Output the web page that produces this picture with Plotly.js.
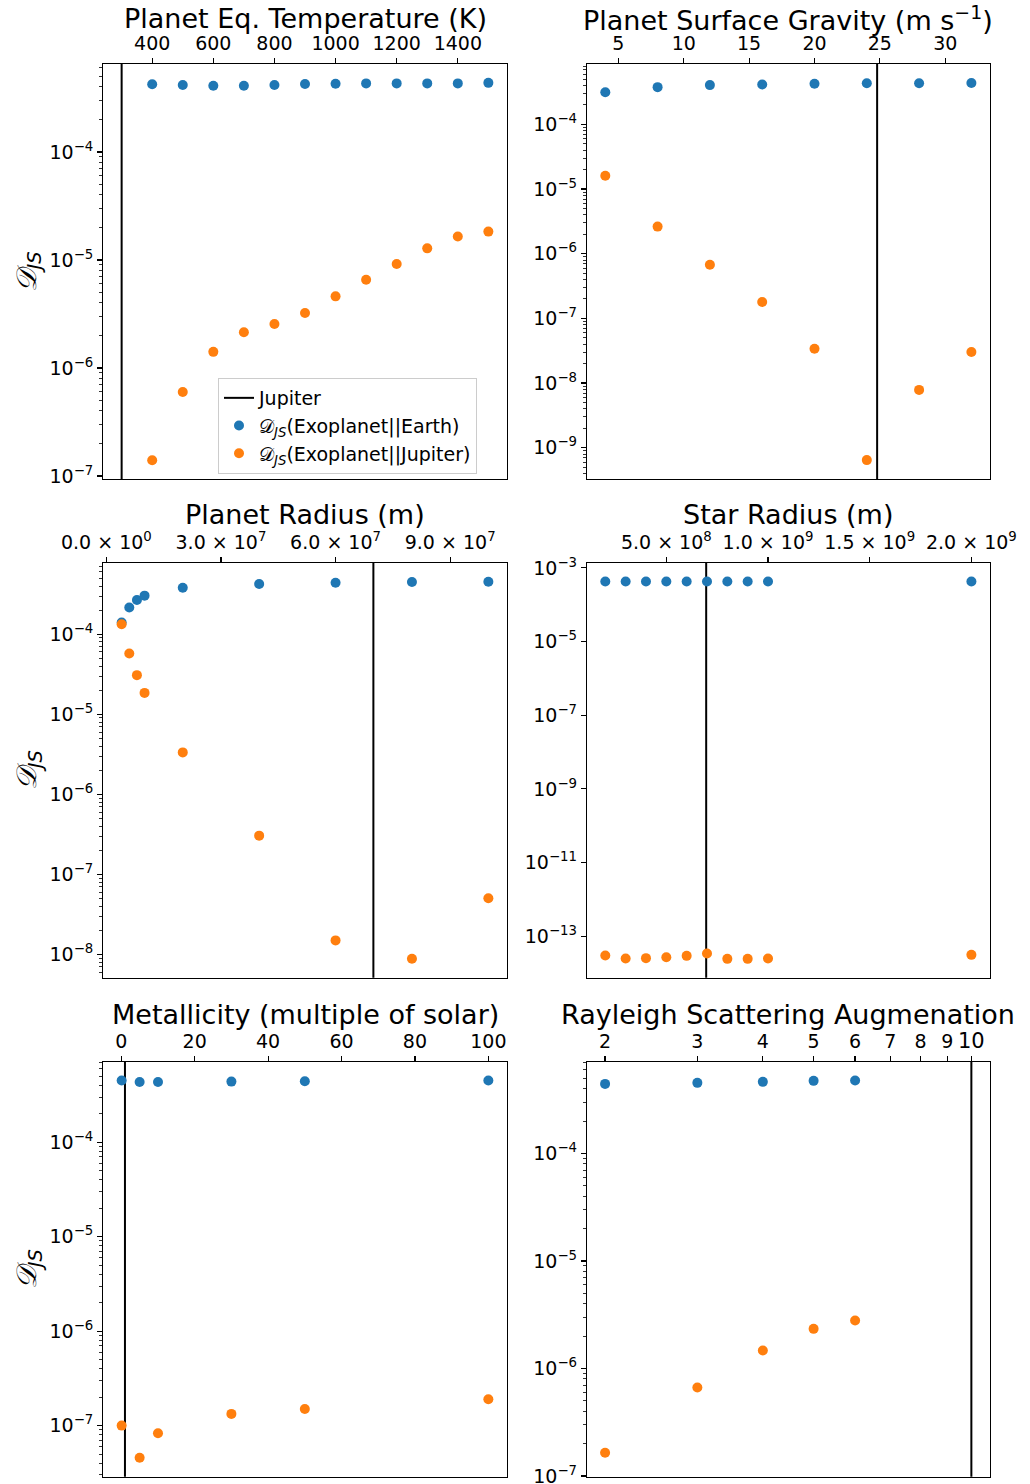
<!DOCTYPE html>
<html>
<head>
<meta charset="utf-8">
<script src="https://cdn.plot.ly/plotly-3.0.1.min.js"></script>
<style>html,body{margin:0;padding:0;background:#fff;}#chart{width:1030px;height:1484px;}</style>
</head>
<body>
<div id="chart"></div>
<script>
// ---------------- data ----------------
const panelTitles = ['Planet Eq. Temperature (K)', 'Planet Surface Gravity (m s<sup>\u22121</sup>)',
  'Planet Radius (m)', 'Star Radius (m)', 'Metallicity (multiple of solar)', 'Rayleigh Scattering Augmenation'];

const eqTemp = [400, 500, 600, 700, 800, 900, 1000, 1100, 1200, 1300, 1400, 1500];
const eqTempEarth = [4.23e-4, 4.16e-4, 4.10e-4, 4.10e-4, 4.16e-4, 4.25e-4, 4.28e-4, 4.31e-4, 4.31e-4, 4.31e-4, 4.31e-4, 4.36e-4];
const eqTempJupiter = [1.40e-7, 6.0e-7, 1.41e-6, 2.14e-6, 2.55e-6, 3.23e-6, 4.60e-6, 6.55e-6, 9.16e-6, 1.28e-5, 1.65e-5, 1.83e-5];
const jupiterEqTemp = 300;

const gravity = [4, 8, 12, 16, 20, 24, 28, 32];
const gravityEarth = [3.15e-4, 3.77e-4, 4.05e-4, 4.14e-4, 4.24e-4, 4.34e-4, 4.34e-4, 4.38e-4];
const gravityJupiter = [1.61e-5, 2.63e-6, 6.75e-7, 1.79e-7, 3.40e-8, 6.44e-10, 7.85e-9, 3.03e-8];
const jupiterGravity = 24.79;

const planetRadius = [4e6, 6e6, 8e6, 1e7, 2e7, 4e7, 6e7, 8e7, 1e8];
const planetRadiusEarth = [1.40e-4, 2.15e-4, 2.68e-4, 3.03e-4, 3.81e-4, 4.24e-4, 4.40e-4, 4.49e-4, 4.53e-4];
const planetRadiusJupiter = [1.33e-4, 5.73e-5, 3.08e-5, 1.85e-5, 3.34e-6, 3.05e-7, 1.50e-8, 8.83e-9, 5.05e-8];
const jupiterRadius = 6.99e7;

const starRadius = [2e8, 3e8, 4e8, 5e8, 6e8, 7e8, 8e8, 9e8, 1e9, 2e9];
const starRadiusEarth = [4.26e-4, 4.26e-4, 4.26e-4, 4.26e-4, 4.26e-4, 4.26e-4, 4.26e-4, 4.26e-4, 4.26e-4, 4.26e-4];
const starRadiusJupiter = [2.99e-14, 2.48e-14, 2.54e-14, 2.70e-14, 2.93e-14, 3.39e-14, 2.43e-14, 2.43e-14, 2.48e-14, 3.12e-14];
const jupiterStarRadius = 6.96e8;

const metallicity = [0.1, 5, 10, 30, 50, 100];
const metallicityEarth = [4.49e-4, 4.34e-4, 4.34e-4, 4.38e-4, 4.42e-4, 4.49e-4];
const metallicityJupiter = [1.0e-7, 4.56e-8, 8.29e-8, 1.33e-7, 1.50e-7, 1.90e-7];
const jupiterMetallicity = 1;

const rayleigh = [2, 3, 4, 5, 6];
const rayleighEarth = [4.44e-4, 4.54e-4, 4.64e-4, 4.74e-4, 4.77e-4];
const rayleighJupiter = [1.65e-7, 6.67e-7, 1.47e-6, 2.34e-6, 2.80e-6];
const jupiterRayleigh = 10;

// tick labels
const eqTempTicks = [400, 600, 800, 1000, 1200, 1400];
const gravityTicks = [5, 10, 15, 20, 25, 30];
const planetRadiusTicks = [0, 3e7, 6e7, 9e7];
const planetRadiusTickText = ['0.0 \u00d7 10<sup>0</sup>', '3.0 \u00d7 10<sup>7</sup>', '6.0 \u00d7 10<sup>7</sup>', '9.0 \u00d7 10<sup>7</sup>'];
const starRadiusTicks = [5e8, 1e9, 1.5e9, 2e9];
const starRadiusTickText = ['5.0 \u00d7 10<sup>8</sup>', '1.0 \u00d7 10<sup>9</sup>', '1.5 \u00d7 10<sup>9</sup>', '2.0 \u00d7 10<sup>9</sup>'];
const metallicityTicks = [0, 20, 40, 60, 80, 100];
const rayleighTicks = [2, 3, 4, 5, 6, 7, 8, 9, 10];
const rayleighTickText = ['2', '3', '4', '5', '6', '7', '8', '9', '<span style="font-size:21px">10</span>'];

// ---------------- layout helpers ----------------
const W = 1030, H = 1484;
const BLUE = '#1f77b4', ORANGE = '#ff7f0e';
const FONT = 'DejaVu Sans, Liberation Sans, sans-serif';
const TICK = 19;
const colPx = [[103.3, 506.7], [587, 989.7]];
const rowPx = [[64, 479], [562.7, 977.7], [1061.7, 1476.7]];

const panels = [
  {x: eqTemp, a: eqTempEarth, b: eqTempJupiter, jup: jupiterEqTemp, xr: [240, 1560], yr: [-7.028, -3.186], xt: eqTempTicks, yt: [-7, -6, -5, -4], xtype: 'linear'},
  {x: gravity, a: gravityEarth, b: gravityJupiter, jup: jupiterGravity, xr: [2.6, 33.4], yr: [-9.483, -3.066], xt: gravityTicks, yt: [-9, -8, -7, -6, -5, -4], xtype: 'linear'},
  {x: planetRadius, a: planetRadiusEarth, b: planetRadiusJupiter, jup: jupiterRadius, xr: [-8e5, 1.048e8], yr: [-8.29, -3.107], xt: planetRadiusTicks, xtt: planetRadiusTickText, yt: [-8, -7, -6, -5, -4], xtype: 'linear'},
  {x: starRadius, a: starRadiusEarth, b: starRadiusJupiter, jup: jupiterStarRadius, xr: [1.1e8, 2.09e9], yr: [-14.126, -2.859], xt: starRadiusTicks, xtt: starRadiusTickText, yt: [-13, -11, -9, -7, -5, -3], xtype: 'linear', noMinor: true},
  {x: metallicity, a: metallicityEarth, b: metallicityJupiter, jup: jupiterMetallicity, xr: [-4.9, 105.0], yr: [-7.541, -3.148], xt: metallicityTicks, yt: [-7, -6, -5, -4], xtype: 'linear'},
  {x: rayleigh, a: rayleighEarth, b: rayleighJupiter, jup: jupiterRayleigh, xr: [Math.log10(2) - 0.0345, 1.035], yr: [-7.006, -3.146], xt: rayleighTicks, xtt: rayleighTickText, yt: [-7, -6, -5, -4], xtype: 'log'}
];

const dLabel = '\ud835\udc9f<sub><i>JS</i></sub>';
const traces = [];
const layout = {
  width: W, height: H, margin: {l: 0, r: 0, t: 0, b: 0},
  paper_bgcolor: '#fff', plot_bgcolor: '#fff',
  font: {family: FONT, size: TICK, color: '#000'},
  showlegend: true,
  legend: {x: 218 / W, y: 1 - 378 / H, xanchor: 'left', yanchor: 'top', bgcolor: 'rgba(255,255,255,0.8)',
    bordercolor: '#cccccc', borderwidth: 1, font: {family: FONT, size: 19, color: '#000'}, tracegroupgap: 0},
  annotations: [], shapes: []
};

panels.forEach((p, i) => {
  const row = Math.floor(i / 2), col = i % 2;
  const n = i + 1;
  const xa = 'xaxis' + (n === 1 ? '' : n), ya = 'yaxis' + (n === 1 ? '' : n);
  const xr = 'x' + (n === 1 ? '' : n), yr = 'y' + (n === 1 ? '' : n);
  const xd = [colPx[col][0] / W, colPx[col][1] / W];
  const yd = [1 - rowPx[row][1] / H, 1 - rowPx[row][0] / H];

  // minor tick values for log y axis
  const minor = [];
  if (!p.noMinor) {
    for (let e = Math.floor(p.yr[0]); e <= Math.ceil(p.yr[1]); e++) {
      for (let m = 2; m <= 9; m++) {
        const v = m * Math.pow(10, e);
        const lv = Math.log10(v);
        if (lv > p.yr[0] && lv < p.yr[1]) minor.push(v);
      }
    }
  }

  layout[xa] = {
    domain: xd, anchor: yr, side: 'top', type: p.xtype, range: p.xr,
    tickmode: 'array', tickvals: p.xt, ticktext: p.xtt || p.xt.map(String),
    ticks: 'outside', ticklen: 5, tickwidth: 1.2, tickcolor: '#000',
    showline: true, mirror: true, linecolor: '#000', linewidth: 1.2,
    showgrid: false, zeroline: false, tickfont: {family: FONT, size: TICK, color: '#000'},
    ticklabeloverflow: 'allow'
  };
  layout[ya] = {
    domain: yd, anchor: xr, type: 'log', range: p.yr,
    tickmode: 'array', tickvals: p.yt.map(e => Math.pow(10, e)),
    ticktext: p.yt.map(e => '10<sup>\u2212' + Math.abs(e) + '</sup>'),
    ticks: 'outside', ticklen: 5, tickwidth: 1.2, tickcolor: '#000',
    showline: true, mirror: true, linecolor: '#000', linewidth: 1.2,
    showgrid: false, zeroline: false, tickfont: {family: FONT, size: TICK, color: '#000'},
    ticklabeloverflow: 'allow',
    minor: {tickmode: 'array', tickvals: minor, ticks: minor.length ? 'outside' : '', ticklen: 3, tickwidth: 0.8, tickcolor: '#000', showgrid: false}
  };

  // Jupiter reference line (spans the full y range of the axis)
  traces.push({
    type: 'scatter', mode: 'lines', x: [p.jup, p.jup],
    y: [Math.pow(10, p.yr[0] - 1), Math.pow(10, p.yr[1] + 1)],
    xaxis: xr, yaxis: yr, line: {color: '#000', width: 2},
    name: 'Jupiter', showlegend: i === 0, hoverinfo: 'skip'
  });
  traces.push({
    type: 'scatter', mode: 'markers', x: p.x, y: p.a, xaxis: xr, yaxis: yr,
    marker: {color: BLUE, size: 10, line: {width: 0}},
    name: dLabel + '(Exoplanet||Earth)', showlegend: i === 0
  });
  traces.push({
    type: 'scatter', mode: 'markers', x: p.x, y: p.b, xaxis: xr, yaxis: yr,
    marker: {color: ORANGE, size: 10, line: {width: 0}},
    name: dLabel + '(Exoplanet||Jupiter)', showlegend: i === 0
  });

  // panel title
  const titleY = [18, 514, 1014][row];
  layout.annotations.push({
    xref: 'paper', yref: 'paper', x: (xd[0] + xd[1]) / 2, y: 1 - titleY / H,
    xanchor: 'center', yanchor: 'middle', showarrow: false,
    text: panelTitles[i], font: {family: FONT, size: 27, color: '#000'}
  });
  // y axis label on left column
  if (col === 0) {
    layout.annotations.push({
      xref: 'paper', yref: 'paper', x: 28 / W, y: (yd[0] + yd[1]) / 2,
      xanchor: 'center', yanchor: 'middle', showarrow: false, textangle: -90,
      text: '<i>\ud835\udc9f</i><sub><i>JS</i></sub>', font: {family: FONT, size: 28, color: '#000'}
    });
  }
});

Plotly.newPlot('chart', traces, layout, {displayModeBar: false, staticPlot: true});
</script>
</body>
</html>
